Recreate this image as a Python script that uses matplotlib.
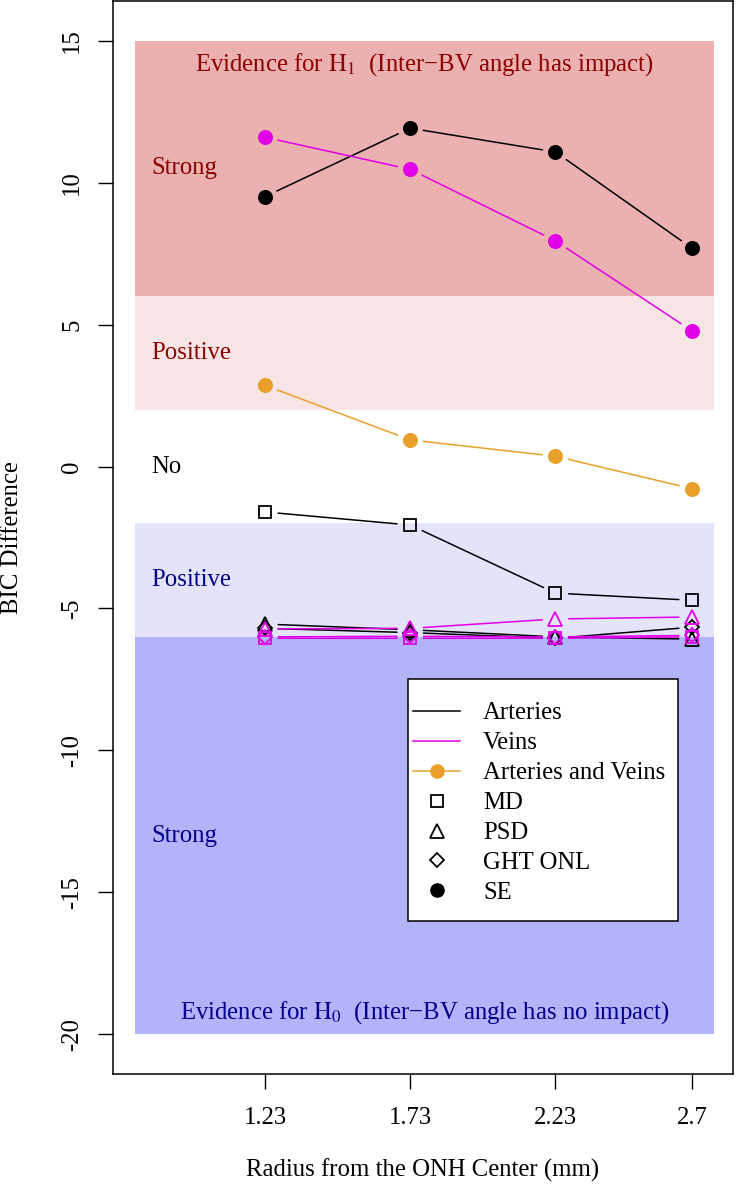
import matplotlib
matplotlib.use("Agg")
import matplotlib.pyplot as plt
from matplotlib.lines import Line2D
from matplotlib.patches import Rectangle

plt.rcParams['font.family'] = ['Liberation Serif', 'DejaVu Serif']
plt.rcParams['mathtext.fontset'] = 'stix'
plt.rcParams['axes.unicode_minus'] = False

# data
radius = [1.23, 1.73, 2.23, 2.7]
radius_labels = ['1.23', '1.73', '2.23', '2.7']

art_md = [-1.60, -2.06, -4.46, -4.71]
art_psd = [-5.55, -5.75, -6.00, -6.08]
art_ght = [-5.70, -5.85, -6.05, -5.66]
art_se = [9.51, 11.92, 11.08, 7.69]

vein_md = [-6.05, -6.05, -6.05, -6.00]
vein_psd = [-5.72, -5.70, -5.37, -5.30]
vein_ght = [-6.00, -5.98, -6.00, -5.95]
vein_se = [11.60, 10.47, 7.95, 4.78]

av_se = [2.86, 0.94, 0.36, -0.78]

y_ticks = [-20, -15, -10, -5, 0, 5, 10, 15]

# evidence bands (low, high)
band_h1_strong = (6, 15)
band_h1_pos = (2, 6)
band_h0_pos = (-6, -2)
band_h0_strong = (-20, -6)
band_x = (0.782, 2.776)

MAG = '#E100E8'
ORA = '#E8A02A'
RED_TXT = '#8B0000'
BLUE_TXT = '#00008B'
FS = 17.8

fig = plt.figure(figsize=(7.38, 11.93), dpi=100)
ax = fig.add_axes([113 / 738, (1193 - 1074) / 1193, 620 / 738, 1073 / 1193])
ax.set_xlim(0.707, 2.841)
ax.set_ylim(-21.4, 16.4)

ax.fill_between(band_x, *band_h1_strong, color='#EBB0B0', lw=0, zorder=0)
ax.fill_between(band_x, *band_h1_pos, color='#F7E4E4', lw=0, zorder=0)
ax.fill_between(band_x, *band_h0_pos, color='#E3E3FA', lw=0, zorder=0)
ax.fill_between(band_x, *band_h0_strong, color='#B3B3FA', lw=0, zorder=0)

mid = (band_x[0] + band_x[1]) / 2
ax.text(mid, 14.15, 'Evidence for $\\mathrm{H}_1$  (Inter\u2212BV angle has impact)',
        color=RED_TXT, fontsize=FS, ha='center', va='center')
ax.text(mid, -19.25, 'Evidence for $\\mathrm{H}_0$  (Inter\u2212BV angle has no impact)',
        color=BLUE_TXT, fontsize=FS, ha='center', va='center')
ax.text(0.84, 10.5, 'Strong', color=RED_TXT, fontsize=FS, va='center')
ax.text(0.84, 4.0, 'Positive', color=RED_TXT, fontsize=FS, va='center')
ax.text(0.84, 0.0, 'No', color='black', fontsize=FS, va='center')
ax.text(0.84, -4.0, 'Positive', color=BLUE_TXT, fontsize=FS, va='center')
ax.text(0.84, -13.0, 'Strong', color=BLUE_TXT, fontsize=FS, va='center')


def draw_b(x, y, color, marker, ms, filled):
    # R type="b": segments with gaps around the points
    for i in range(len(x) - 1):
        ax.annotate('', xy=(x[i + 1], y[i + 1]), xytext=(x[i], y[i]),
                    arrowprops=dict(arrowstyle='-', color=color, lw=1.1,
                                    shrinkA=9.5, shrinkB=9.5), zorder=2)
    ax.plot(x, y, ls='none', marker=marker, ms=ms,
            mfc=color if filled else 'none', mec=color, mew=1.3, zorder=3)


draw_b(radius, art_md, 'black', 's', 8, False)
draw_b(radius, art_psd, 'black', '^', 9.5, False)
draw_b(radius, art_ght, 'black', 'D', 7.5, False)
draw_b(radius, art_se, 'black', 'o', 9.5, True)
draw_b(radius, vein_md, MAG, 's', 8, False)
draw_b(radius, vein_psd, MAG, '^', 9.5, False)
draw_b(radius, vein_ght, MAG, 'D', 7.5, False)
draw_b(radius, vein_se, MAG, 'o', 9.5, True)
draw_b(radius, av_se, ORA, 'o', 9.5, True)

ax.set_xticks(radius)
ax.set_xticklabels(radius_labels)
ax.set_yticks(y_ticks)
ax.tick_params(axis='both', length=11, width=1, labelsize=FS, color='black')
ax.tick_params(axis='x', pad=13)
ax.tick_params(axis='y', pad=10.5)
for lab in ax.get_yticklabels():
    lab.set_rotation(90)
    lab.set_va('center')
for sp in ax.spines.values():
    sp.set_linewidth(1.1)

fig.text(12 / 738, 1 - 537.5 / 1193, 'BIC Difference', rotation=90,
         ha='center', va='center', fontsize=FS)
fig.text(423 / 738, 1 - 1170 / 1193, 'Radius from the ONH Center (mm)',
         ha='center', va='center', fontsize=FS)

handles = [
    Line2D([], [], color='black', lw=1.1),
    Line2D([], [], color=MAG, lw=1.1),
    Line2D([], [], color=ORA, lw=1.1, marker='o', ms=9.5),
    Line2D([], [], ls='none', marker='s', ms=8, mfc='none', mec='black', mew=1.3),
    Line2D([], [], ls='none', marker='^', ms=9.5, mfc='none', mec='black', mew=1.3),
    Line2D([], [], ls='none', marker='D', ms=7.5, mfc='none', mec='black', mew=1.3),
    Line2D([], [], ls='none', marker='o', ms=9.5, color='black'),
]
labels = ['Arteries', 'Veins', 'Arteries and Veins', 'MD', 'PSD', 'GHT ONL', 'SE']

# legend frame drawn separately (R-style box)
ax.add_patch(Rectangle((0.4758, 0.1426), 0.4355, 0.2255, transform=ax.transAxes,
                       facecolor='white', edgecolor='black', lw=1.1, zorder=4))
leg = ax.legend(handles, labels, loc='upper left',
                bbox_to_anchor=(0.4839, 0.3467),
                fontsize=FS, frameon=False, handlelength=1.9, handletextpad=0.93,
                labelspacing=0.31, borderpad=0, borderaxespad=0)
leg.set_zorder(5)

fig.savefig('out.png', dpi=100)
